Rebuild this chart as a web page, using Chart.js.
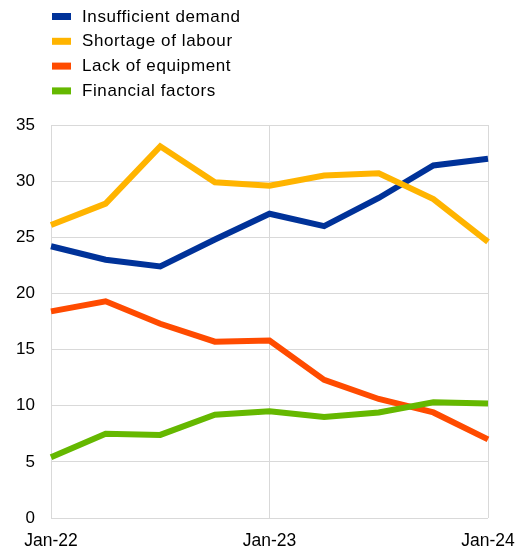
<!DOCTYPE html>
<html><head><meta charset="utf-8">
<script src="https://cdn.jsdelivr.net/npm/chart.js@4"></script>
<style>html,body{margin:0;padding:0;background:#fff;}#wrap{width:516px;height:550px;}</style>
</head><body><div id="wrap"><canvas id="c" width="516" height="550"></canvas></div>
<script>
const categories = ["Jan-22","Apr-22","Jul-22","Oct-22","Jan-23","Apr-23","Jul-23","Oct-23","Jan-24"];
const insufficientDemand = [24.2, 23.0, 22.4, 24.8, 27.1, 26.0, 28.5, 31.4, 32.0];
const shortageOfLabour   = [26.1, 28.0, 33.1, 29.9, 29.6, 30.5, 30.7, 28.4, 24.6];
const lackOfEquipment    = [18.4, 19.3, 17.3, 15.7, 15.8, 12.3, 10.6, 9.4, 7.0];
const financialFactors   = [5.4, 7.5, 7.4, 9.2, 9.5, 9.0, 9.4, 10.3, 10.2];
const seriesNames = ["Insufficient demand","Shortage of labour","Lack of equipment","Financial factors"];
const colors = ["#003299","#FFB400","#FF4B00","#65B800"];
const yTicks = [0,5,10,15,20,25,30,35];
const shownX = ["Jan-22","Jan-23","Jan-24"];

const legendPlugin = {
  id: 'customLegend',
  afterDraw(chart) {
    const ctx = chart.ctx;
    ctx.save();
    ctx.font = '17px "Liberation Sans", Arial, sans-serif';
    if ('letterSpacing' in ctx) ctx.letterSpacing = '0.6px';
    ctx.textBaseline = 'middle';
    seriesNames.forEach((name, i) => {
      const y = 16 + i * 24.8;
      ctx.fillStyle = colors[i];
      ctx.fillRect(52, y - 3, 19, 7);
      ctx.fillStyle = '#000';
      ctx.fillText(name, 82, y + 1);
    });
    ctx.restore();
  }
};

const datasets = [insufficientDemand, shortageOfLabour, lackOfEquipment, financialFactors].map((d, i) => ({
  label: seriesNames[i], data: d, borderColor: colors[i], backgroundColor: colors[i],
  borderWidth: 6, pointRadius: 0, tension: 0, fill: false, borderJoinStyle: 'miter'
}));
datasets.reverse();

new Chart(document.getElementById('c'), {
  type: 'line',
  data: { labels: categories, datasets },
  options: {
    responsive: false, animation: false,
    layout: { padding: { top: 125, right: 0, left: 0, bottom: 0 } },
    plugins: { legend: { display: false }, tooltip: { enabled: false } },
    scales: {
      x: {
        offset: false,
        grid: { color: c => shownX.includes(categories[c.index]) ? '#d9d9d9' : 'rgba(0,0,0,0)', lineWidth: 1, drawTicks: false },
        border: { display: false },
        ticks: {
          autoSkip: false, maxRotation: 0, padding: 13, color: '#000',
          font: { family: '"Liberation Sans", Arial, sans-serif', size: 17.5 },
          callback: (v, i) => shownX.includes(categories[i]) ? categories[i] : ''
        },
        afterFit: s => { s.height = 32; s.paddingRight = 28; }
      },
      y: {
        min: 0, max: 35,
        afterBuildTicks: s => { s.ticks = yTicks.map(v => ({ value: v })); },
        grid: { color: '#d9d9d9', lineWidth: 1, drawTicks: false },
        border: { display: false },
        ticks: { color: '#000', padding: 16, font: { family: '"Liberation Sans", Arial, sans-serif', size: 17 } },
        afterFit: s => { s.width = 51; }
      }
    }
  },
  plugins: [legendPlugin]
});
</script></body></html>
